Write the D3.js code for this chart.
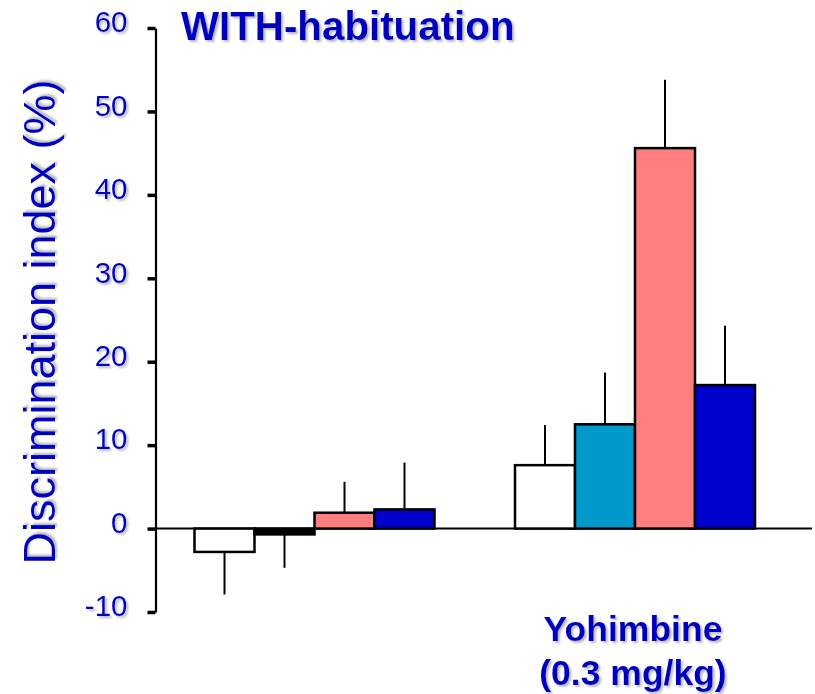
<!DOCTYPE html>
<html>
<head>
<meta charset="utf-8">
<script src="https://cdn.jsdelivr.net/npm/d3@7"></script>
<style>
  html, body { margin: 0; padding: 0; background: #fff; }
  svg { display: block; }
</style>
</head>
<body>
<svg id="chart" width="815" height="694"></svg>
<script>
// Discrimination index (%) per group, four conditions each
const groups = ["g1", "g2"];
const groupLabels = [[], ["Yohimbine", "(0.3 mg/kg)"]];
const conditions = ["c1", "c2", "c3", "c4"];
const means = [
  [-2.8, -0.7, 1.9, 2.3],
  [7.6, 12.5, 45.6, 17.2]
];
const errors = [
  [5.1, 4.0, 3.7, 5.6],
  [4.8, 6.2, 8.2, 7.1]
];
const fills = [
  ["#ffffff", "#000000", "#ff7f80", "#0000cc"],
  ["#ffffff", "#0099cc", "#ff7f80", "#0000cc"]
];
const yTicks = [-10, 0, 10, 20, 30, 40, 50, 60];
const titleText = "WITH-habituation";
const yTitle = "Discrimination index (%)";

const textBlue = "#0000c0";
const fontFamily = "Liberation Sans, Arial, sans-serif";
const svg = d3.select("#chart");

// soft grey drop shadow used on all text
const defs = svg.append("defs");
const f = defs.append("filter").attr("id", "shadow")
  .attr("x", "-10%").attr("y", "-10%").attr("width", "130%").attr("height", "140%");
f.append("feDropShadow").attr("dx", 2).attr("dy", 2)
  .attr("stdDeviation", 1).attr("flood-color", "#888").attr("flood-opacity", 0.6);

const y = d3.scaleLinear().domain([-10, 60]).range([612, 28]);
const x0 = d3.scalePoint().domain(groups).range([314.5, 635]);
const x1 = d3.scaleBand().domain(conditions).range([-120, 120]);
const axisX = 155.5;

// y axis
const yAxis = svg.append("g")
  .attr("transform", `translate(${axisX},0)`)
  .call(d3.axisLeft(y).tickValues(yTicks).tickFormat(d => String(d))
    .tickSize(8).tickSizeOuter(0).tickPadding(20));
yAxis.select(".domain").attr("stroke", "#000").attr("stroke-width", 2.2);
yAxis.selectAll(".tick line").attr("stroke", "#000").attr("stroke-width", 3.5);
yAxis.selectAll(".tick text")
  .attr("fill", textBlue)
  .attr("font-family", fontFamily)
  .attr("font-size", 29.5)
  .attr("dy", "0.13em")
  .attr("filter", "url(#shadow)");

// zero baseline
svg.append("line")
  .attr("x1", axisX).attr("x2", 812)
  .attr("y1", y(0)).attr("y2", y(0))
  .attr("stroke", "#000").attr("stroke-width", 2);

// error bars (single whisker pointing away from zero)
const flat = [];
groups.forEach((g, gi) => conditions.forEach((c, ci) => {
  flat.push({ g, c, v: means[gi][ci], e: errors[gi][ci], fill: fills[gi][ci] });
}));

svg.append("g").selectAll("line").data(flat).join("line")
  .attr("x1", d => x0(d.g) + x1(d.c) + x1.bandwidth() / 2)
  .attr("x2", d => x0(d.g) + x1(d.c) + x1.bandwidth() / 2)
  .attr("y1", d => y(d.v))
  .attr("y2", d => y(d.v + (d.v < 0 ? -d.e : d.e)))
  .attr("stroke", "#000").attr("stroke-width", 2);

// bars
svg.append("g").selectAll("rect").data(flat).join("rect")
  .attr("x", d => x0(d.g) + x1(d.c))
  .attr("width", x1.bandwidth())
  .attr("y", d => y(Math.max(0, d.v)))
  .attr("height", d => Math.abs(y(d.v) - y(0)))
  .attr("fill", d => d.fill)
  .attr("stroke", "#000").attr("stroke-width", 2.5);

// title
svg.append("text")
  .attr("x", 181).attr("y", 39.5)
  .attr("fill", textBlue)
  .attr("font-family", fontFamily)
  .attr("font-weight", "bold").attr("font-size", 40.3)
  .attr("filter", "url(#shadow)")
  .text(titleText);

// y axis title
svg.append("text")
  .attr("transform", "translate(55,322) rotate(-90)")
  .attr("text-anchor", "middle")
  .attr("fill", textBlue)
  .attr("font-family", fontFamily)
  .attr("font-size", 45)
  .attr("filter", "url(#shadow)")
  .text(yTitle);

// group labels
groups.forEach((g, gi) => {
  groupLabels[gi].forEach((line, li) => {
    svg.append("text")
      .attr("x", x0(g) - 2).attr("y", 641 + li * 44)
      .attr("text-anchor", "middle")
      .attr("fill", textBlue)
      .attr("font-family", fontFamily)
      .attr("font-weight", "bold").attr("font-size", 35.5)
      .attr("filter", "url(#shadow)")
      .text(line);
  });
});
</script>
</body>
</html>
